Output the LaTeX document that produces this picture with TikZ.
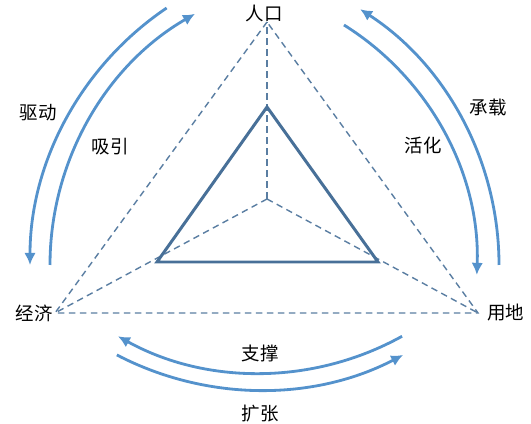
\documentclass[tikz,border=0pt]{standalone}
\usepackage{fontspec}
\newfontfamily\cjk{Noto Sans CJK SC}
\usetikzlibrary{arrows.meta}
\definecolor{myblue}{RGB}{84,146,204}
\definecolor{mysteel}{RGB}{72,112,152}

\begin{document}
\begin{tikzpicture}[x=0.2mm, y=0.2mm,
  lbl/.style={font=\cjk\fontsize{10.5}{12}\selectfont, inner sep=1pt},
  dashline/.style={mysteel!90, dash pattern=on 1.3mm off 0.9mm, line width=0.8pt},
  tri/.style={mysteel, line width=1.7pt},
  flow/.style={myblue, line width=1.6pt, -{Latex[length=2.4mm, width=2.3mm]}}]
\useasboundingbox (0,0) rectangle (531,424);

% vertices
\coordinate (otop) at (267,402);
\coordinate (oleft) at (55,111);
\coordinate (oright) at (478,111);
\coordinate (mid) at (267,225);
\coordinate (itop) at (267,317);
\coordinate (ileft) at (157,162);
\coordinate (iright) at (378,162);

\node[lbl] (renkou) at (264,411) {人口};
\node[lbl, anchor=east] (jingji) at (oleft) {经济};
\node[lbl, anchor=west] (yongdi) at ([xshift=1.4mm]oright) {用地};

\draw[dashline] (otop) -- (oleft) -- (oright) -- cycle;
\draw[dashline] (mid) -- (otop);
\draw[dashline] (mid) -- (oleft);
\draw[dashline] (mid) -- (oright);

\draw[tri] (itop) -- (ileft) -- (iright) -- cycle;

% left pair
\draw[flow] (340,159) ++(124:310) arc[start angle=124, end angle=180, radius=310*0.2mm];
\draw[flow] (340,159) ++(180:290) arc[start angle=180, end angle=120, radius=290*0.2mm];
\node[lbl] (qudong) at (38,311) {驱动};
\node[lbl] (xiyin) at (110,277) {吸引};

% right pair
\draw[flow] (194,159) ++(0:305) arc[start angle=0, end angle=57, radius=305*0.2mm];
\draw[flow] (194,159) ++(58:283) arc[start angle=58, end angle=-2, radius=283*0.2mm];
\node[lbl] (chengzai) at (488,316) {承载};
\node[lbl] (huohua) at (423,279) {活化};

% bottom pair
\draw[flow] (260,344) ++(-61:293) arc[start angle=-61, end angle=-119, radius=293*0.2mm];
\draw[flow] (260,344) ++(-117.5:310) arc[start angle=-117.5, end angle=-62.5, radius=310*0.2mm];
\node[lbl] (zhicheng) at (260,71) {支撑};
\node[lbl] (kuozhang) at (260,10) {扩张};
\end{tikzpicture}
\end{document}
